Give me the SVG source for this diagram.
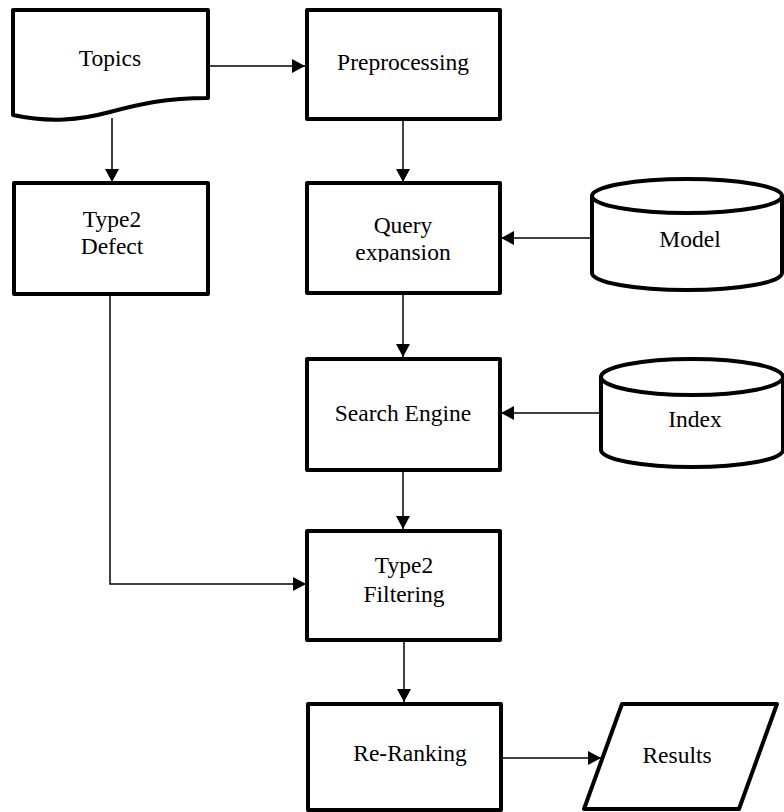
<svg xmlns="http://www.w3.org/2000/svg" width="784" height="812" viewBox="0 0 784 812">
<style>
.n{fill:#fff;stroke:#000;stroke-width:4;stroke-linejoin:round}
.t{font-family:'Liberation Serif','Times New Roman',serif;font-size:23.5px;fill:#000;text-anchor:middle}
.c{fill:none;stroke:#000;stroke-width:1.5}
</style>
<defs>
<marker id="ah" markerWidth="13" markerHeight="14" refX="13" refY="7" orient="auto" markerUnits="userSpaceOnUse">
<path d="M0,0 L13,7 L0,14 Z" fill="#000"/>
</marker>
<clipPath id="qclip"><rect x="300" y="180" width="210" height="82"/></clipPath>
</defs>
<rect width="784" height="812" fill="#fff"/>
<g id="connectors">
<path class="c" d="M208,66 H305" marker-end="url(#ah)"/>
<path class="c" d="M112,118 V182" marker-end="url(#ah)"/>
<path class="c" d="M403,119 V182" marker-end="url(#ah)"/>
<path class="c" d="M591,238 H501" marker-end="url(#ah)"/>
<path class="c" d="M403,293 V357" marker-end="url(#ah)"/>
<path class="c" d="M600,413 H501" marker-end="url(#ah)"/>
<path class="c" d="M403,470 V529" marker-end="url(#ah)"/>
<path class="c" d="M110,294 V584 H306" marker-end="url(#ah)"/>
<path class="c" d="M404,640 V702" marker-end="url(#ah)"/>
<path class="c" d="M501,758 H601" marker-end="url(#ah)"/>
</g>
<g id="topics">
<path class="n" d="M13,10 H208 V98 C165,98 140,104 110,112 C80,120 50,123 13,115 Z"/>
<text class="t" x="110" y="66">Topics</text>
</g>
<g id="preprocessing">
<rect class="n" x="307" y="10" width="193" height="109"/>
<text class="t" x="403" y="70">Preprocessing</text>
</g>
<g id="type2defect">
<rect class="n" x="14" y="183" width="194" height="111"/>
<text class="t" x="112" y="227">Type2</text>
<text class="t" x="112" y="254">Defect</text>
</g>
<g id="queryexpansion">
<rect class="n" x="307" y="183" width="193" height="110"/>
<g clip-path="url(#qclip)">
<text class="t" x="403" y="233">Query</text>
<text class="t" x="403" y="260">expansion</text>
</g>
</g>
<g id="model">
<path class="n" d="M592,196 V273 A95,17 0 0 0 782,273 V196"/>
<ellipse class="n" cx="687" cy="196" rx="95" ry="17"/>
<text class="t" x="690" y="247">Model</text>
</g>
<g id="searchengine">
<rect class="n" x="307" y="359" width="193" height="111"/>
<text class="t" x="403" y="421">Search Engine</text>
</g>
<g id="index">
<path class="n" d="M601,377 V450 A91,17 0 0 0 783,450 V377"/>
<ellipse class="n" cx="692" cy="377" rx="91" ry="18"/>
<text class="t" x="695" y="427">Index</text>
</g>
<g id="type2filtering">
<rect class="n" x="307" y="531" width="193" height="109"/>
<text class="t" x="404" y="573">Type2</text>
<text class="t" x="404" y="602">Filtering</text>
</g>
<g id="reranking">
<rect class="n" x="308" y="704" width="193" height="106"/>
<text class="t" x="410" y="761">Re-Ranking</text>
</g>
<g id="results">
<path class="n" d="M622,704 H777 L739,809 H584 Z"/>
<text class="t" x="677" y="763">Results</text>
</g>
</svg>
